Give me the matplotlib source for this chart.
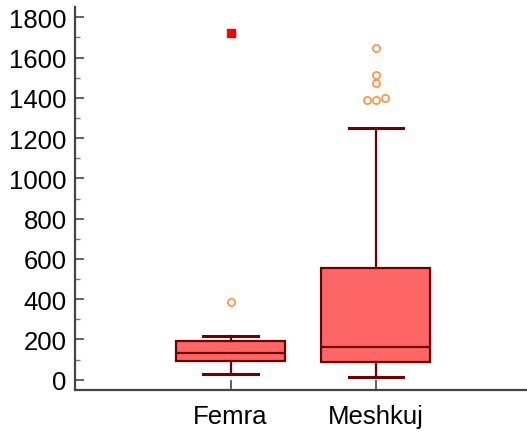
import numpy as np
import matplotlib
matplotlib.use("Agg")
import matplotlib.pyplot as plt

plt.rcParams['font.family'] = ['Liberation Sans', 'DejaVu Sans']

groups = ["Femra", "Meshkuj"]
q1 = [93, 88]
med = [134, 164]
q3 = [191, 553]
whislo = [30, 15]
whishi = [216, 1250]
# outside values (circles) and far-out values (squares)
outliers = [[387], [1645, 1515, 1472, 1389, 1389, 1400]]
far_out = [[1721], []]

box_fill = "#ff6666"
edge = "#6e0000"
pos = np.arange(1, len(groups) + 1)

fig = plt.figure(figsize=(5.27, 4.35), dpi=100)
ax = fig.add_axes([75 / 527, 44 / 435, 452 / 527, 383 / 435])

stats = []
for i, g in enumerate(groups):
    stats.append(dict(label=g, q1=q1[i], med=med[i], q3=q3[i],
                      whislo=whislo[i], whishi=whishi[i], fliers=[]))

ax.bxp(stats, positions=pos, widths=0.75, capwidths=0.375, patch_artist=True,
       showfliers=False,
       boxprops=dict(facecolor=box_fill, edgecolor=edge, linewidth=1.6),
       medianprops=dict(color=edge, linewidth=1.6),
       whiskerprops=dict(color=edge, linewidth=1.6),
       capprops=dict(color=edge, linewidth=2.2))


def dodge(vals, tol=20, step=0.06):
    # spread points that sit on almost the same value side by side
    vals = sorted(vals)
    out = []
    i = 0
    while i < len(vals):
        j = i
        while j + 1 < len(vals) and vals[j + 1] - vals[i] < tol:
            j += 1
        n = j - i + 1
        for k in range(n):
            out.append(((k - (n - 1) / 2) * step, vals[i + k]))
        i = j + 1
    return out


for p, vals in zip(pos, outliers):
    for dx, v in dodge(vals):
        ax.plot(p + dx, v, 'o', ms=5.2, mfc='none', mec='#ff8a2e', mew=1.1)
for p, vals in zip(pos, far_out):
    for dx, v in dodge(vals):
        ax.plot(p + dx, v, 's', ms=6, color='#ff0000', mec='#ff0000')

ax.set_xlim(-0.07, 3.04)
ax.set_ylim(-51, 1851)
ax.set_yticks(np.arange(0, 1801, 200))
ax.set_yticks(np.arange(100, 1800, 200), minor=True)
ax.set_xticks(pos)
ax.set_xticklabels(groups)

for s in ['top', 'right']:
    ax.spines[s].set_visible(False)
for s in ['left', 'bottom']:
    ax.spines[s].set_color('#444444')
    ax.spines[s].set_linewidth(1.6)

ax.tick_params(axis='y', which='major', direction='in', length=6.5, width=1.3,
               color='#555555', labelsize=18.5, pad=6)
ax.tick_params(axis='y', which='minor', direction='in', length=3.5, width=1,
               color='#777777')
ax.tick_params(axis='x', direction='in', length=7, width=1.3, color='#555555',
               labelsize=18.5, pad=10)

fig.savefig("out.png", dpi=100)
